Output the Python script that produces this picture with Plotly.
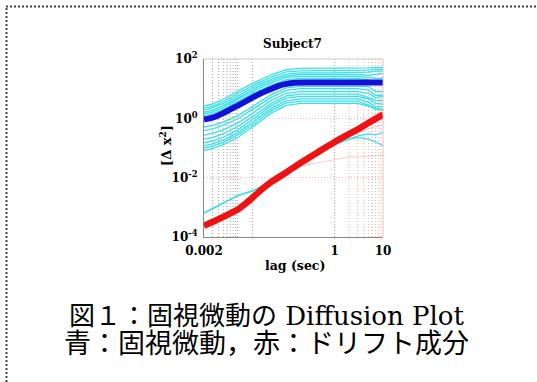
import plotly.graph_objects as go

W, H = 537, 382

# ---------------- data ----------------
X_C = [0.002, 0.003, 0.005, 0.01, 0.02, 0.05, 0.1, 0.2, 1, 3, 5, 7, 10]

c01 = [2.6, 3.1, 4.4, 7.9, 15, 30, 44, 48, 48, 48, 50, 52, 52]
c02 = [2.2, 2.6, 3.7, 6.6, 12.5, 25, 37, 40, 40, 41, 42, 44, 45]
c03 = [1.9, 2.3, 3.2, 5.6, 10.7, 21, 31, 34, 34, 35, 36, 38, 40]
c04 = [1.6, 1.9, 2.7, 4.8, 9.2, 18.5, 27, 30, 30, 30, 28, 30, 33]
c05 = [1.4, 1.65, 2.35, 4.2, 8, 16, 24, 26, 26, 26, 24, 22, 22]
c06 = [1.2, 1.43, 2.0, 3.6, 6.8, 13.5, 20, 22, 22, 22, 20, 17, 15]
c07 = [1.0, 1.19, 1.7, 3.0, 5.8, 11.8, 17.5, 19, 19, 19, 17, 14, 14]
c08 = [0.51, 0.58, 0.74, 1.23, 2.5, 6.4, 10.6, 12, 12, 12, 12, 8, 8]
c09 = [0.39, 0.44, 0.58, 0.97, 2.0, 5.2, 8.8, 10, 10, 10, 9, 6, 6]
c10 = [0.27, 0.31, 0.41, 0.70, 1.47, 4.1, 7.0, 8, 8, 8, 7, 5, 5.5]
c11 = [0.2, 0.23, 0.30, 0.53, 1.14, 3.2, 5.7, 6.5, 6.5, 6.5, 5, 4, 4]
c12 = [0.15, 0.17, 0.23, 0.41, 0.91, 2.7, 4.8, 5.5, 5.5, 5.5, 4.5, 3.2, 3]
c13 = [0.12, 0.139, 0.185, 0.33, 0.74, 2.2, 3.9, 4.5, 4.5, 4.5, 3.5, 2.5, 2.5]
c14 = [0.1, 0.116, 0.155, 0.28, 0.62, 1.85, 3.3, 3.8, 3.8, 3.8, 2.8, 2.2, 2.0]
c15 = [0.083, 0.096, 0.129, 0.23, 0.51, 1.53, 2.75, 3.2, 3.2, 3.2, 2.6, 2.0, 1.9]

X_L = [0.002, 0.003, 0.005, 0.01, 0.02, 0.05, 0.1, 0.2, 0.5, 1, 2, 3, 5, 7, 10]
lowA = [6.5e-4, 9e-4, 1.4e-3, 2.5e-3, 3.6e-3, 8e-3, 0.018, 0.036, 0.08, 0.13, 0.2, 0.22, 0.2, 0.16, 0.12]
lowB = [6.5e-4, 9e-4, 1.4e-3, 2.5e-3, 3.6e-3, 8e-3, 0.018, 0.036, 0.08, 0.13, 0.2, 0.25, 0.3, 0.28, 0.33]

X_B = [0.002, 0.003, 0.005, 0.007, 0.01, 0.02, 0.03, 0.05, 0.07, 0.1, 0.15, 0.3, 1, 3, 10]
blue_mean = [0.9, 1.05, 1.5, 2.0, 2.7, 5.0, 7.0, 10, 12.5, 14.5, 15.8, 16, 16, 16, 16]

X_R = [0.002, 0.003, 0.005, 0.007, 0.01, 0.015, 0.02, 0.03, 0.05, 0.1, 0.2, 0.5, 1, 2, 3, 5, 10]
red_mean = [2.4e-4, 3.2e-4, 4.8e-4, 6.3e-4, 8.5e-4, 1.4e-3, 2.1e-3, 3.8e-3, 7.3e-3, 1.5e-2, 3.2e-2, 8e-2, 0.16, 0.3, 0.42, 0.7, 1.35]
p1 = [2.8e-4, 3.7e-4, 5.5e-4, 7.2e-4, 9.8e-4, 1.6e-3, 2.4e-3, 4.3e-3, 8.3e-3, 1.7e-2, 3.6e-2, 9e-2, 0.19, 0.38, 0.55, 0.95, 2.0]
p2 = [2.1e-4, 2.8e-4, 4.2e-4, 5.5e-4, 7.5e-4, 1.25e-3, 1.85e-3, 3.3e-3, 6.4e-3, 1.3e-2, 2.8e-2, 7e-2, 0.14, 0.26, 0.36, 0.58, 1.0]
p3 = [2.5e-4, 3.3e-4, 5e-4, 6.5e-4, 8.8e-4, 1.45e-3, 2.2e-3, 3.9e-3, 7.6e-3, 1.4e-2, 2.4e-2, 3.3e-2, 0.04, 0.05, 0.05, 0.052, 0.058]
p4 = [2.6e-4, 3.4e-4, 5.1e-4, 6.7e-4, 9e-4, 1.5e-3, 2.2e-3, 4.0e-3, 7.7e-3, 1.6e-2, 3.4e-2, 8.5e-2, 0.17, 0.33, 0.48, 0.8, 1.6]
p5 = [2.3e-4, 3.0e-4, 4.6e-4, 6.0e-4, 8.1e-4, 1.35e-3, 2.0e-3, 3.6e-3, 7.0e-3, 1.45e-2, 3.0e-2, 7.5e-2, 0.15, 0.25, 0.33, 0.45, 0.6]

GRID_XL = [0.003, 0.004, 0.005, 0.006, 0.007, 0.008, 0.009, 0.01, 0.02]
GRID_XR = [2, 3, 4, 5, 6, 7, 8, 9]
GRID_X1 = [1]
GRID_Y = [1e-2, 1]

X_TICKS = [0.002, 1, 10]
X_TICKTEXT = ["0.002", "1", "10"]
Y_TICKS = [1e-4, 1e-2, 1, 100]
Y_TICKTEXT = ["10<sup>-4</sup>", "10<sup>-2</sup>", "10<sup>0</sup>", "10<sup>2</sup>"]

TITLE = "Subject7"
X_TITLE = "lag (sec)"
Y_TITLE = "[Δ x<sup>2</sup>]"
CAPTION1 = "図１：固視微動の Diffusion Plot"
CAPTION2 = "青：固視微動，赤：ドリフト成分"

# ---------------- figure ----------------
CYAN = "#38e0ea"
BLUE = "#1212dc"
RED = "#f01212"
PINK = "rgba(240,140,140,0.45)"

fig = go.Figure()

def vlines(xs, color):
    xx, yy = [], []
    for v in xs:
        xx += [v, v, None]
        yy += [1e-4, 1e2, None]
    fig.add_trace(go.Scatter(x=xx, y=yy, mode="lines", hoverinfo="skip",
                             line=dict(color=color, width=1, dash="1px,2px")))

def hlines(ys, color):
    xx, yy = [], []
    for v in ys:
        xx += [0.002, 10, None]
        yy += [v, v, None]
    fig.add_trace(go.Scatter(x=xx, y=yy, mode="lines", hoverinfo="skip",
                             line=dict(color=color, width=1, dash="1px,2px")))

vlines(GRID_XL, "rgba(90,90,90,0.55)")
vlines(GRID_X1, "rgba(90,90,90,0.55)")
vlines(GRID_XR, "rgba(230,120,120,0.6)")
hlines(GRID_Y, "rgba(230,120,120,0.6)")

for ys in [c01, c02, c03, c04, c05, c06, c07, c08, c09, c10, c11, c12, c13, c14, c15]:
    fig.add_trace(go.Scatter(x=X_C, y=ys, mode="lines", line=dict(color=CYAN, width=1.3)))
for ys in [lowA, lowB]:
    fig.add_trace(go.Scatter(x=X_L, y=ys, mode="lines",
                             line=dict(color=CYAN, width=1.3, shape="spline", smoothing=0.5)))
for ys in [p1, p2, p3, p4, p5]:
    fig.add_trace(go.Scatter(x=X_R, y=ys, mode="lines",
                             line=dict(color=PINK, width=1, shape="spline", smoothing=0.5)))

fig.add_trace(go.Scatter(x=X_B, y=blue_mean, mode="lines",
                         line=dict(color=BLUE, width=6, shape="spline", smoothing=0.5)))
fig.add_trace(go.Scatter(x=X_R, y=red_mean, mode="lines",
                         line=dict(color=RED, width=6.5, shape="spline", smoothing=0.5)))

x0, x1, y0, y1 = 204, 383, 59, 237
SERIF = "DejaVu Serif"

fig.update_layout(
    width=W, height=H,
    margin=dict(l=0, r=0, t=0, b=0, pad=0, autoexpand=False),
    paper_bgcolor="white", plot_bgcolor="white",
    showlegend=False,
    xaxis=dict(type="log", range=[-2.69897, 1], domain=[x0 / W, x1 / W],
               showgrid=False, zeroline=False, showline=True, linecolor="#888", linewidth=1,
               tickvals=X_TICKS, ticktext=["<b>%s</b>" % t for t in X_TICKTEXT],
               ticks="", ticklabelstandoff=3, automargin=False,
               tickfont=dict(family=SERIF, size=12, color="black")),
    yaxis=dict(type="log", range=[-4, 2], domain=[1 - y1 / H, 1 - y0 / H],
               showgrid=False, zeroline=False, showline=True, linecolor="#888", linewidth=1,
               tickvals=Y_TICKS, ticktext=["<b>%s</b>" % t for t in Y_TICKTEXT],
               ticks="", ticklabelstandoff=3, automargin=False,
               tickfont=dict(family=SERIF, size=12, color="black")),
)

# frame top / right
fig.add_shape(type="line", xref="paper", yref="paper", x0=x0 / W, x1=x1 / W,
              y0=1 - y0 / H, y1=1 - y0 / H, line=dict(color="#ccc", width=1))
fig.add_shape(type="line", xref="paper", yref="paper", x0=x1 / W, x1=x1 / W,
              y0=1 - y1 / H, y1=1 - y0 / H, line=dict(color="rgba(240,170,170,0.8)", width=1))

# dotted page border (top and left)
fig.add_shape(type="line", xref="paper", yref="paper", x0=6 / W, x1=1,
              y0=1 - 6.5 / H, y1=1 - 6.5 / H, line=dict(color="#444", width=2, dash="2px,2px"))
fig.add_shape(type="line", xref="paper", yref="paper", x0=6.5 / W, x1=6.5 / W,
              y0=0, y1=1 - 6 / H, line=dict(color="#444", width=2, dash="2px,2px"))

def ann(text, x, y, size, family, angle=0):
    fig.add_annotation(text=text, xref="paper", yref="paper", x=x / W, y=1 - y / H,
                       xanchor="center", yanchor="middle", showarrow=False, textangle=angle,
                       font=dict(family=family, size=size, color="black"))

ann("<b>%s</b>" % TITLE, 292, 44, 12, SERIF)
ann("<b>%s</b>" % X_TITLE, 295, 265, 12.5, SERIF)
ann("<b>%s</b>" % Y_TITLE, 165, 146, 13, SERIF, angle=-90)
ann(CAPTION1, 266.5, 315.5, 26, "DejaVu Serif, Noto Sans CJK JP")
ann(CAPTION2, 266.5, 341, 27, "Noto Sans CJK JP")

fig.write_html("out.html", config={"displayModeBar": False},
               post_script="document.body.style.margin='0';document.body.style.overflow='hidden';")
